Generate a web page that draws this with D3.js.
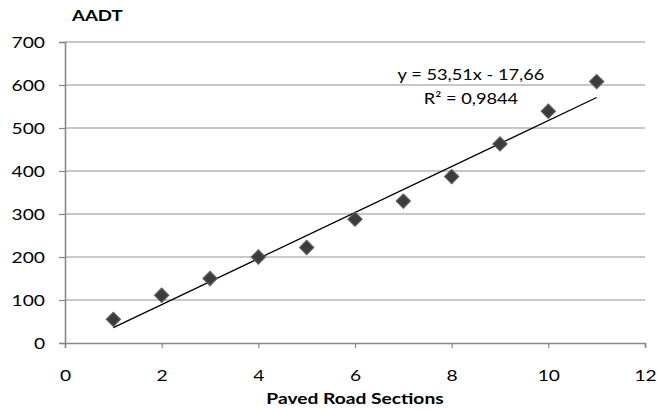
<!DOCTYPE html>
<html>
<head>
<meta charset="utf-8">
<script src="https://cdn.jsdelivr.net/npm/d3@7"></script>
<style>
  html, body { margin: 0; padding: 0; background: #ffffff; }
  svg { display: block; }
  text { font-family: Lato, "Open Sans", sans-serif; fill: #000; }
</style>
</head>
<body>
<svg id="chart" width="657" height="410"></svg>
<script>
// Paved road sections and their annual average daily traffic
const sections = [1, 2, 3, 4, 5, 6, 7, 8, 9, 10, 11];
const aadt = [55, 111, 150, 200, 222, 288, 330, 387, 463, 539, 608];

// Linear trend fitted to the series
const slope = 53.51;
const intercept = -17.66;
const rSquared = 0.9844;

const xTicks = [0, 2, 4, 6, 8, 10, 12];
const yTicks = [0, 100, 200, 300, 400, 500, 600, 700];

const yTitle = "AADT";
const xTitle = "Paved Road Sections";

const svg = d3.select("#chart");
const margin = { left: 65, right: 12, top: 42, bottom: 67 };
const W = 657, H = 410;

const x = d3.scaleLinear().domain([0, 12]).range([margin.left, W - margin.right]);
const y = d3.scaleLinear().domain([0, 700]).range([H - margin.bottom, margin.top]);

const gray = "#878787";
const stretchK = 1.2;
const fmtComma = v => String(v).replace(".", ",");

// Widen glyphs horizontally around each text's own anchor point
function stretch(sel, k) {
  sel.each(function () {
    const t = d3.select(this);
    const tx = +t.attr("x") || 0;
    t.attr("transform", `translate(${tx},0) scale(${k},1) translate(${-tx},0)`);
  });
}

// Horizontal gridlines
svg.append("g")
  .selectAll("line")
  .data(yTicks.filter(d => d > 0))
  .join("line")
  .attr("x1", x(0)).attr("x2", x(12))
  .attr("y1", d => y(d)).attr("y2", d => y(d))
  .attr("stroke", "#8f8f8f").attr("stroke-width", 1.2);

// Y axis
const yAxis = svg.append("g")
  .attr("transform", `translate(${x(0)},0)`)
  .call(d3.axisLeft(y).tickValues(yTicks).tickSize(6).tickPadding(14).tickFormat(d3.format("d")));
yAxis.select(".domain").attr("stroke", gray).attr("stroke-width", 1.6);
yAxis.selectAll(".tick line").attr("stroke", gray).attr("stroke-width", 1.2);
yAxis.selectAll(".tick text")
  .attr("font-family", "Lato, sans-serif").attr("font-size", 16).attr("fill", "#000")
  .attr("x", -20)
  .call(stretch, stretchK);

// X axis
const xAxis = svg.append("g")
  .attr("transform", `translate(0,${y(0)})`)
  .call(d3.axisBottom(x).tickValues(xTicks).tickSize(5).tickFormat(d3.format("d")));
xAxis.select(".domain").attr("stroke", gray).attr("stroke-width", 1.6);
xAxis.selectAll(".tick line").attr("stroke", gray).attr("stroke-width", 1.2);
xAxis.selectAll(".tick text")
  .attr("font-family", "Lato, sans-serif").attr("font-size", 16).attr("fill", "#000")
  .attr("y", 38.5).attr("dy", 0)
  .call(stretch, stretchK);

// Trend line
svg.append("line")
  .attr("x1", x(sections[0])).attr("y1", y(slope * sections[0] + intercept))
  .attr("x2", x(sections[sections.length - 1])).attr("y2", y(slope * sections[sections.length - 1] + intercept))
  .attr("stroke", "#000").attr("stroke-width", 1.3);

// Diamond markers
const diamond = d3.symbol().type(d3.symbolSquare).size(100);
svg.append("g")
  .selectAll("path")
  .data(sections.map((s, i) => ({ s, v: aadt[i] })))
  .join("path")
  .attr("d", diamond)
  .attr("transform", d => `translate(${x(d.s)},${y(d.v)}) rotate(45)`)
  .attr("fill", "#3c3c3c")
  .attr("stroke", "#5c5c5c")
  .attr("stroke-width", 1.2);

// Trend equation labels
const eqX = 471;
svg.append("text")
  .attr("x", eqX).attr("y", 80)
  .attr("text-anchor", "middle").attr("font-size", 15.2)
  .text(`y = ${fmtComma(slope)}x - ${fmtComma(Math.abs(intercept))}`)
  .call(stretch, stretchK);
svg.append("text")
  .attr("x", eqX).attr("y", 104)
  .attr("text-anchor", "middle").attr("font-size", 15.2)
  .text(`R² = ${fmtComma(rSquared)}`)
  .call(stretch, stretchK);

// Axis titles
svg.append("text")
  .attr("x", 72).attr("y", 21)
  .attr("font-size", 15.5).attr("font-weight", "bold")
  .text(yTitle)
  .call(stretch, stretchK);
svg.append("text")
  .attr("x", (x(0) + x(12)) / 2).attr("y", 404)
  .attr("text-anchor", "middle")
  .attr("font-size", 16).attr("font-weight", "bold")
  .text(xTitle)
  .call(stretch, stretchK);
</script>
</body>
</html>
